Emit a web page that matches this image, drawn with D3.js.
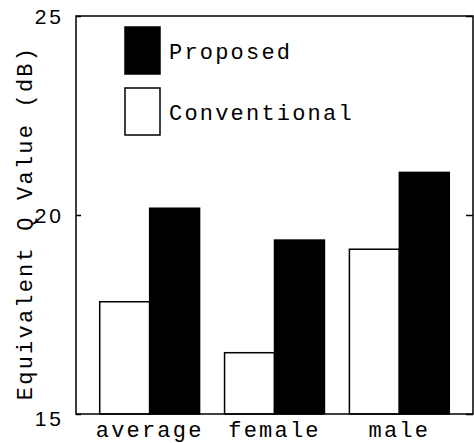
<!DOCTYPE html>
<html>
<head>
<meta charset="utf-8">
<script src="https://cdn.jsdelivr.net/npm/d3@7"></script>
<style>
html,body{margin:0;padding:0;background:#fff;}
svg{display:block;}
</style>
</head>
<body>
<svg id="chart" width="474" height="443"></svg>
<script>
const categories = ["average", "female", "male"];
const seriesNames = ["Conventional", "Proposed"];
const conventional = [17.82, 16.54, 19.14];
const proposed = [20.17, 19.37, 21.07];
const yTicks = [15, 20, 25];
const legendOrder = ["Proposed", "Conventional"];

const values = { Conventional: conventional, Proposed: proposed };
const fills = { Conventional: "#fff", Proposed: "#000" };

const svg = d3.select("#chart");
const L = 76, R = 473, T = 16, B = 414;
const mono = "'Liberation Mono', 'Courier New', monospace";
const monoSize = 22, monoSpacing = 2.2;

const y = d3.scaleLinear().domain([15, 25]).range([B, T]);
const x0 = d3.scaleBand().domain(categories).range([L, R]).paddingInner(0.2).paddingOuter(0.19);
const x1 = d3.scaleBand().domain(seriesNames).range([0, x0.bandwidth()]).padding(0);

// bars
const groups = svg.append("g").selectAll("g").data(categories).join("g")
  .attr("transform", d => `translate(${x0(d)},0)`);
groups.selectAll("rect")
  .data((c, i) => seriesNames.map(s => ({ s, v: values[s][i] })))
  .join("rect")
  .attr("x", d => x1(d.s))
  .attr("y", d => y(d.v))
  .attr("width", x1.bandwidth())
  .attr("height", d => B - y(d.v))
  .attr("fill", d => fills[d.s])
  .attr("stroke", "#000")
  .attr("stroke-width", 1.5);

// frame
svg.append("rect").attr("x", L).attr("y", T).attr("width", R - L).attr("height", B - T)
  .attr("fill", "none").attr("stroke", "#000").attr("stroke-width", 1.5);

// left axis
const yAxis = d3.axisLeft(y).tickValues(yTicks).tickSize(-5).tickPadding(12).tickFormat(d3.format("d"));
const ga = svg.append("g").attr("transform", `translate(${L},0)`).call(yAxis);
ga.select(".domain").remove();
ga.selectAll(".tick line").attr("stroke", "#000").attr("stroke-width", 1.5);
ga.selectAll(".tick text")
  .attr("font-family", "'Liberation Sans', Arial, sans-serif")
  .attr("font-size", 21)
  .attr("letter-spacing", 3)
  .attr("fill", "#000")
  .attr("dy", d => d === 15 ? "0.55em" : "0.36em");

// right axis ticks
const yAxisR = d3.axisRight(y).tickValues(yTicks).tickSize(-7).tickFormat("");
const gr = svg.append("g").attr("transform", `translate(${R},0)`).call(yAxisR);
gr.select(".domain").remove();
gr.selectAll(".tick line").attr("stroke", "#000").attr("stroke-width", 1.5);

// x axis labels
const xAxis = d3.axisBottom(x0).tickSize(0).tickPadding(0);
const gx = svg.append("g").attr("transform", `translate(0,${B})`).call(xAxis);
gx.select(".domain").remove();
gx.selectAll(".tick text")
  .attr("font-family", mono)
  .attr("font-size", monoSize)
  .attr("letter-spacing", monoSpacing)
  .attr("fill", "#000")
  .attr("y", 23)
  .attr("dy", 0);

// y label
svg.append("text")
  .attr("transform", `translate(32,223) rotate(-90)`)
  .attr("text-anchor", "middle")
  .attr("font-family", mono)
  .attr("font-size", monoSize)
  .attr("letter-spacing", monoSpacing)
  .attr("fill", "#000")
  .text("Equivalent Q Value (dB)");

// legend
const leg = svg.append("g").selectAll("g").data(legendOrder).join("g")
  .attr("transform", (d, i) => `translate(125,${27 + i * 61})`);
leg.append("rect")
  .attr("x", 0).attr("y", 0).attr("width", 35).attr("height", 47)
  .attr("fill", d => fills[d]).attr("stroke", "#000").attr("stroke-width", 1.5);
leg.append("text")
  .attr("x", 44).attr("y", 32)
  .attr("font-family", mono)
  .attr("font-size", monoSize)
  .attr("letter-spacing", monoSpacing)
  .attr("fill", "#000")
  .text(d => d);
</script>
</body>
</html>
